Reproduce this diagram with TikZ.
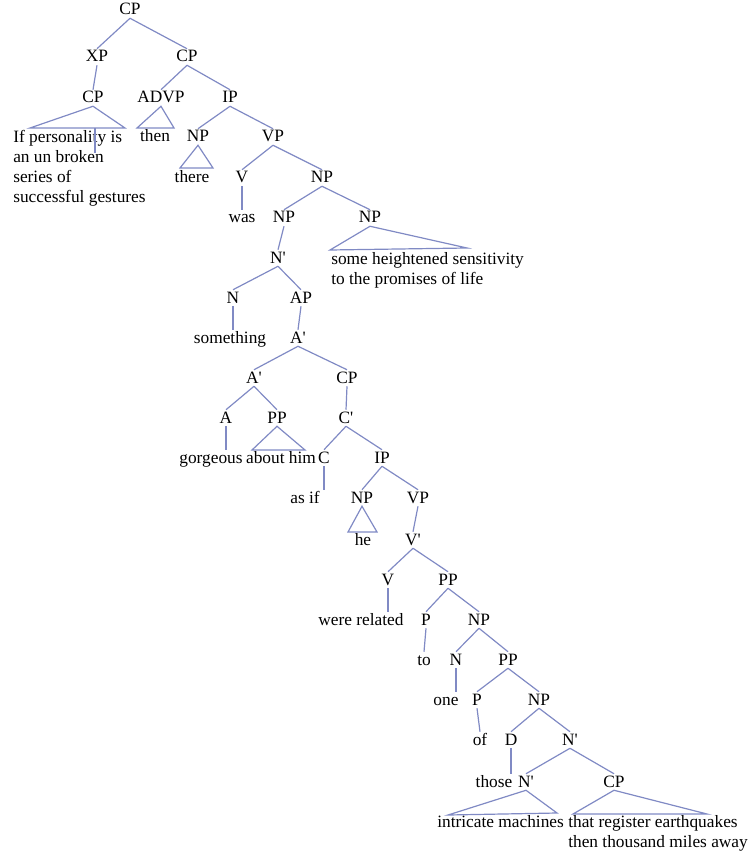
\documentclass[tikz,border=0pt]{standalone}
\usepackage{fontspec}
\setmainfont{Liberation Serif}
\usepackage{tikz}
\usetikzlibrary{positioning, calc}

\definecolor{arbre}{RGB}{128,138,196}

\begin{document}
\begin{tikzpicture}[
  x=0.75pt, y=-0.75pt,
  cat/.style={font=\fontsize{13}{15}\selectfont, inner sep=0pt,
              anchor=base, text height=9.75pt, text depth=2.25pt},
  mots/.style={font=\fontsize{13}{15}\selectfont, inner sep=0pt,
               align=left, anchor=base west},
  branche/.style={draw=arbre, line width=0.9pt}
]

  \useasboundingbox (0,0) rectangle (755,855);

  %=========================================================
  % 1. Haut de l'arbre : CP, XP, proposition en if
  %    (les textes sur plusieurs lignes : ancre sur la
  %    derniere ligne)
  %=========================================================
  \node[cat] (cp0) at (130,15) {CP};
  \node[cat] (xp) at (97,62) {XP};
  \node[cat] (cp1) at (187,62) {CP};
  \node[cat] (cp2) at (93,103) {CP};
  \node[cat] (advp) at (161,103) {ADVP};
  \node[cat] (ip1) at (230,103) {IP};
  \node[mots] (si) at (13,203)
    {If personality is\\an un broken\\series of\\successful gestures};
  \node[cat] (then) at (155,142) {then};
  \node[cat] (np1) at (198,142) {NP};
  \node[cat] (vp1) at (273,142) {VP};
  \node[cat] (there) at (192,183) {there};
  \node[cat] (v1) at (242,183) {V};
  \node[cat] (np2) at (322,183) {NP};
  \node[cat] (was) at (242,223) {was};
  \node[cat] (np3) at (284,223) {NP};
  \node[cat] (np4) at (370,223) {NP};
  \node[cat] (nb1) at (278,263) {N\textquotesingle};
  \node[mots] (sens) at (331,284)
    {some heightened sensitivity\\to the promises of life};

  %=========================================================
  % 2. Groupe adjectival : something gorgeous about him
  %=========================================================
  \node[cat] (n1) at (233,303) {N};
  \node[cat] (ap) at (301,303) {AP};
  \node[cat] (something) at (230,343) {something};
  \node[cat] (ab1) at (298,343) {A\textquotesingle};
  \node[cat] (ab2) at (254,383) {A\textquotesingle};
  \node[cat] (cp3) at (347,383) {CP};
  \node[cat] (a) at (226,423) {A};
  \node[cat] (pp1) at (277,423) {PP};
  \node[cat] (cb) at (346,423) {C\textquotesingle};
  \node[cat] (gorgeous) at (211,463) {gorgeous};
  \node[cat] (abouthim) at (281,463) {about him};
  \node[cat] (c) at (324,463) {C};
  \node[cat] (ip2) at (382,463) {IP};

  %=========================================================
  % 3. as if he were related to one of those ...
  %=========================================================
  \node[cat] (asif) at (305,503) {as if};
  \node[cat] (np5) at (362,503) {NP};
  \node[cat] (vp2) at (418,503) {VP};
  \node[cat] (he) at (363,545) {he};
  \node[cat] (vb) at (413,545) {V\textquotesingle};
  \node[cat] (v2) at (388,585) {V};
  \node[cat] (pp2) at (448,585) {PP};
  \node[cat] (wererel) at (361,625) {were related};
  \node[cat] (p1) at (426,625) {P};
  \node[cat] (np6) at (479,625) {NP};
  \node[cat] (to) at (424,665) {to};
  \node[cat] (n2) at (456,665) {N};
  \node[cat] (pp3) at (508,665) {PP};
  \node[cat] (one) at (446,705) {one};
  \node[cat] (p2) at (477,705) {P};
  \node[cat] (np7) at (539,705) {NP};
  \node[cat] (of) at (480,745) {of};
  \node[cat] (d) at (511,745) {D};
  \node[cat] (nb2) at (570,745) {N\textquotesingle};
  \node[cat] (those) at (494,787) {those};
  \node[cat] (nb3) at (526,787) {N\textquotesingle};
  \node[cat] (cp4) at (614,787) {CP};
  \node[mots] (machines) at (437,827) {intricate machines};
  \node[mots] (seismo) at (568,847)
    {that register earthquakes\\then thousand miles away};

  %=========================================================
  % 4. Sommets des triangles
  %=========================================================
  \coordinate (si-g) at (30,128);   \coordinate (si-d) at (125,128);
  \coordinate (si-m) at (95,128);   \coordinate (si-b) at (95,153);
  \coordinate (then-g) at (137,128); \coordinate (then-d) at (174,128);
  \coordinate (there-g) at (180,168); \coordinate (there-d) at (213,168);
  \coordinate (sens-g) at (330,250); \coordinate (sens-d) at (467,248);
  \coordinate (him-g) at (252,450); \coordinate (him-d) at (305,450);
  \coordinate (he-g) at (348,532);  \coordinate (he-d) at (377,532);
  \coordinate (mach-g) at (448,815); \coordinate (mach-d) at (557,813);
  \coordinate (seis-g) at (573,814); \coordinate (seis-d) at (707,814);

  %=========================================================
  % 5. Branches
  %=========================================================
  \draw[branche] (cp0.south) -- (xp.north)  (cp0.south) -- (cp1.north);
  \draw[branche] (xp.south) -- (cp2.north);
  \draw[branche] (cp1.south) -- (advp.north) (cp1.south) -- (ip1.north);
  \draw[branche] (cp2.south) -- (si-g) -- (si-d) -- cycle;
  \draw[branche] (si-m) -- (si-b);
  \draw[branche] (advp.south) -- (then-g) -- (then-d) -- cycle;
  \draw[branche] (ip1.south) -- (np1.north) (ip1.south) -- (vp1.north);
  \draw[branche] (np1.south) -- (there-g) -- (there-d) -- cycle;
  \draw[branche] (vp1.south) -- (v1.north) (vp1.south) -- (np2.north);
  \draw[branche] (v1.south) -- (was.north);
  \draw[branche] (np2.south) -- (np3.north) (np2.south) -- (np4.north);
  \draw[branche] (np3.south) -- (nb1.north);
  \draw[branche] (np4.south) -- (sens-g) -- (sens-d) -- cycle;
  \draw[branche] (nb1.south) -- (n1.north) (nb1.south) -- (ap.north);
  \draw[branche] (n1.south) -- (n1.south |- something.north);
  \draw[branche] (ap.south) -- (ab1.north);
  \draw[branche] (ab1.south) -- (ab2.north) (ab1.south) -- (cp3.north);
  \draw[branche] (ab2.south) -- (a.north) (ab2.south) -- (pp1.north);
  \draw[branche] (a.south) -- (a.south |- gorgeous.north);
  \draw[branche] (pp1.south) -- (him-g) -- (him-d) -- cycle;
  \draw[branche] (cp3.south) -- (cb.north);
  \draw[branche] (cb.south) -- (c.north) (cb.south) -- (ip2.north);
  \draw[branche] (c.south) -- (c.south |- asif.north);
  \draw[branche] (ip2.south) -- (np5.north) (ip2.south) -- (vp2.north);
  \draw[branche] (np5.south) -- (he-g) -- (he-d) -- cycle;
  \draw[branche] (vp2.south) -- (vb.north);
  \draw[branche] (vb.south) -- (v2.north) (vb.south) -- (pp2.north);
  \draw[branche] (v2.south) -- (v2.south |- wererel.north);
  \draw[branche] (pp2.south) -- (p1.north) (pp2.south) -- (np6.north);
  \draw[branche] (p1.south) -- (to.north);
  \draw[branche] (np6.south) -- (n2.north) (np6.south) -- (pp3.north);
  \draw[branche] (n2.south) -- (n2.south |- one.north);
  \draw[branche] (pp3.south) -- (p2.north) (pp3.south) -- (np7.north);
  \draw[branche] (p2.south) -- (of.north);
  \draw[branche] (np7.south) -- (d.north) (np7.south) -- (nb2.north);
  \draw[branche] (d.south) -- (d.south |- those.north);
  \draw[branche] (nb2.south) -- (nb3.north) (nb2.south) -- (cp4.north);
  \draw[branche] (nb3.south) -- (mach-g) -- (mach-d) -- cycle;
  \draw[branche] (cp4.south) -- (seis-g) -- (seis-d) -- cycle;

\end{tikzpicture}
\end{document}
